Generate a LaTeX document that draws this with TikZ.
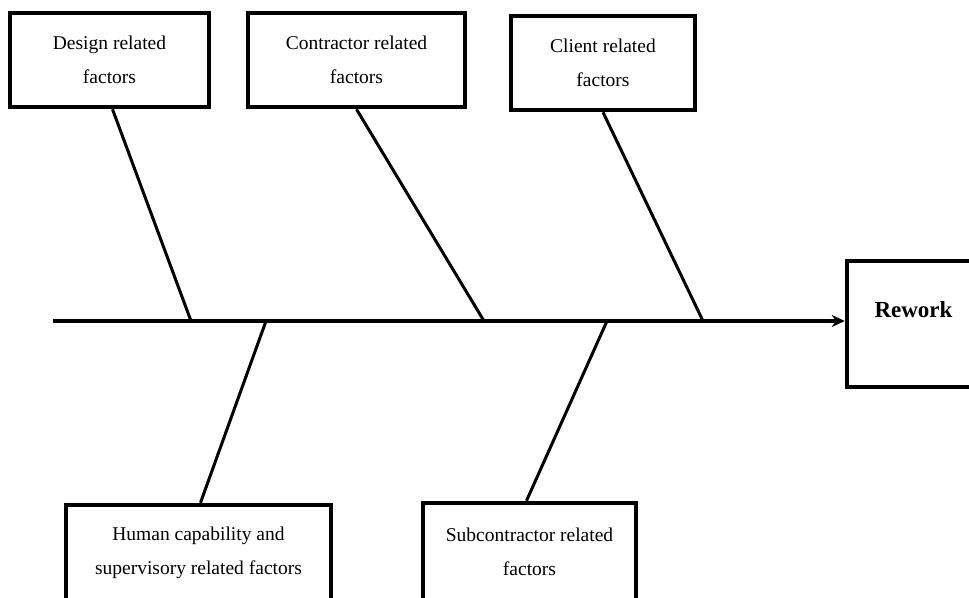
\documentclass[tikz,border=0pt]{standalone}
\usepackage{fontspec}
\setmainfont{Liberation Serif}
\usetikzlibrary{arrows.meta}
\begin{document}
\begin{tikzpicture}[>={Stealth[length=13pt,width=12pt]},x=1pt,y=-1pt,
	factorbox/.style={draw,line width=4.5pt,align=center,inner sep=0pt,font=\fontsize{19.5}{34}\selectfont},
	bone/.style={line width=3pt}]
		\useasboundingbox (0,0) rectangle (969,597);
		% boxes of the causes
		\node[factorbox,minimum width=199pt,minimum height=94pt] (design) at (109.5,60) {Design related\\factors};
		\node[factorbox,minimum width=217pt,minimum height=94pt] (contractor) at (356.5,60) {Contractor related\\factors};
		\node[factorbox,minimum width=184pt,minimum height=94pt] (client) at (603,63) {Client related\\factors};
		\node[factorbox,minimum width=265pt,minimum height=95pt] (human) at (198.5,552.5) {Human capability and\\supervisory related factors};
		\node[factorbox,minimum width=213pt,minimum height=97pt] (subcon) at (529.5,551.5) {Subcontractor related\\factors};
		\node[draw,line width=4.5pt,minimum width=133pt,minimum height=126pt,text height=10pt,text depth=23pt,font=\fontsize{23}{28}\selectfont\bfseries] (rework) at (913.5,324) {Rework};
		% spine
		\coordinate (tail) at (53,321);
		\draw[->,line width=3.5pt] (tail) -- (rework.west |- tail);
		\coordinate (jd) at (191,321);
		\coordinate (jc) at (484,321);
		\coordinate (jcl) at (703,321);
		\coordinate (jh) at (266,321);
		\coordinate (js) at (607,321);
		% bones
		\draw[bone] (jd) -- ([xshift=3pt]design.south);
		\draw[bone] (jc) -- (contractor.south);
		\draw[bone] (jcl) -- (client.south);
		\draw[bone] (jh) -- ([xshift=2pt]human.north);
		\draw[bone] (js) -- ([xshift=-3pt]subcon.north);
		\end{tikzpicture}
\end{document}
